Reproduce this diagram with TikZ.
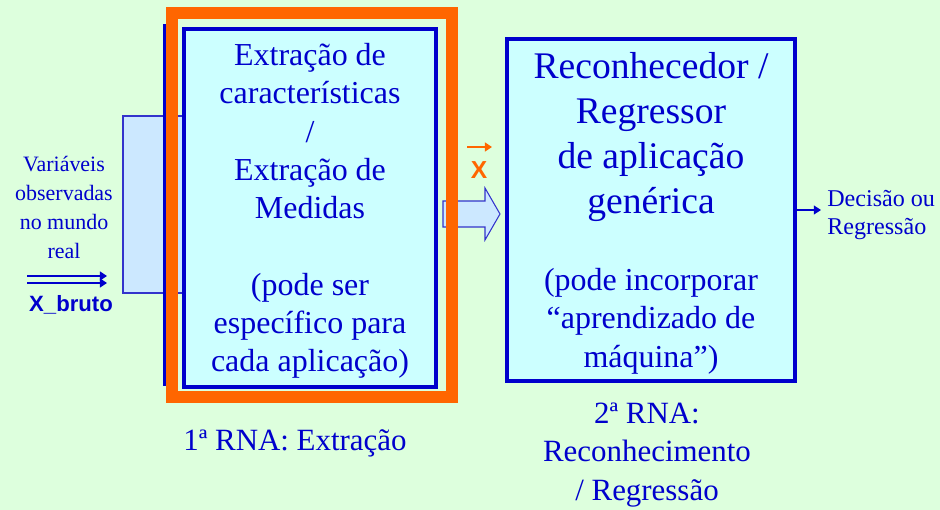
\documentclass[tikz,border=0pt]{standalone}
\usepackage{fontspec}
\setmainfont{Liberation Serif}
\setsansfont{Liberation Sans}
\usetikzlibrary{arrows.meta,positioning}
\definecolor{bggreen}{RGB}{221,255,221}
\definecolor{boxcyan}{RGB}{204,255,255}
\definecolor{arrowblue}{RGB}{204,232,255}
\definecolor{txtblue}{RGB}{0,0,204}
\definecolor{edgeblue}{RGB}{51,51,204}
\definecolor{frameorange}{RGB}{255,102,0}

\begin{document}
\begin{tikzpicture}[x=0.02cm, y=-0.02cm, >={Triangle[length=4pt,width=5pt]},
  every node/.style={text=txtblue, inner sep=0pt, align=center},
  rnabox/.style={draw=txtblue, fill=boxcyan, line width=2.3pt},
  blockarrow/.style={draw=edgeblue, fill=arrowblue, line width=0.6pt}]
\useasboundingbox[fill=bggreen] (0,0) rectangle (940,510);
% setas largas e moldura
\draw[blockarrow] (123,116) rectangle (185,293);
\draw[draw=txtblue, line width=1.2pt] (164.5,25) rectangle (172,385);
\draw[blockarrow] (443,201) -- (485,201) -- (485,188) -- (500,214) -- (485,240) -- (485,227) -- (443,227) -- cycle;
\draw[frameorange, line width=0.24cm] (172,13) rectangle (452,397);
% caixas
\node[rnabox, minimum width=5.04cm, minimum height=7.16cm] (extr) at (310,208) {};
\node[rnabox, minimum width=5.76cm, minimum height=6.84cm] (recon) at (651,210) {};
\node[font=\fontsize{18.2}{21.8}\selectfont] (extrtxt) at (310,211) {Extração de\\características\\/\\Extração de\\Medidas\\[21.8pt](pode ser\\específico para\\cada aplicação)};
\node[font=\fontsize{21.4}{25.6}\selectfont] (recontop) at (651,137) {Reconhecedor /\\Regressor\\de aplicação\\genérica};
\node[font=\fontsize{18.2}{21.9}\selectfont] (reconbot) at (651,321) {(pode incorporar\\“aprendizado de\\máquina”)};
% entrada
\node[font=\fontsize{12.5}{16.5}\selectfont] (vars) at (64,207) {Variáveis\\observadas\\no mundo\\real};
\node[font=\sffamily\bfseries\fontsize{12.6}{14}\selectfont] (xbruto) at (71,305) {X\_bruto};
\coordinate (inA) at (27,276);
\coordinate (inB) at (107,276);
\draw[->, txtblue, line width=1.1pt] (inA) -- (inB);
\draw[->, txtblue, line width=1.1pt] ([yshift=-0.14cm]inA) -- ([yshift=-0.14cm]inB);
% vetor x
\node[font=\sffamily\bfseries\fontsize{14}{16}\selectfont, text=frameorange] (xvec) at (479,170) {X};
\draw[->, frameorange, line width=1.1pt] ([xshift=-0.24cm,yshift=0.46cm]xvec.center) -- ([xshift=0.26cm,yshift=0.46cm]xvec.center);
% saida
\node[font=\fontsize{13.7}{15.4}\selectfont, align=left, anchor=west] (saida) at (827,215) {Decisão ou\\Regressão};
\draw[->, txtblue, line width=0.6pt] (recon.east) -- ([xshift=-0.12cm]recon.east -| saida.west);
% rotulos
\node[font=\fontsize{17.6}{21.9}\selectfont] (rna1) at (295,443) {1ª RNA: Extração};
\node[font=\fontsize{17.6}{21.9}\selectfont] (rna2) at (647,455) {2ª RNA:\\Reconhecimento\\/ Regressão};
\end{tikzpicture}
\end{document}
